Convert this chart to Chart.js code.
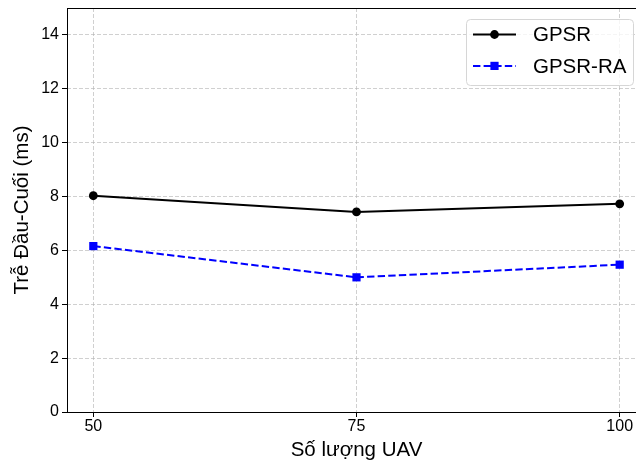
<!DOCTYPE html>
<html>
<head>
<meta charset="utf-8">
<script src="https://cdn.jsdelivr.net/npm/chart.js@4"></script>
<style>
    html, body { margin: 0; padding: 0; background: #fff; overflow: hidden; }
    #wrap { width: 646px; height: 464px; }
</style>
</head>
<body>
<div id="wrap"><canvas id="delayChart" width="646" height="464"></canvas></div>
<script>
const uavCounts = [50, 75, 100];
const gpsrDelay = [8.03, 7.43, 7.73];
const gpsrRaDelay = [6.16, 5.0, 5.47];
const xTicks = [50, 75, 100];
const yTicks = [0, 2, 4, 6, 8, 10, 12, 14];

const FONT = "'Liberation Sans', Arial, sans-serif";

// spines + boxed legend inside the plot area (top right)
const framePlugin = {
    id: "frame",
    afterDatasetsDraw(chart) {
        const { ctx, chartArea } = chart;
        ctx.save();
        ctx.strokeStyle = "#000";
        ctx.lineWidth = 1;
        ctx.setLineDash([]);
        ctx.strokeRect(chartArea.left + 0.5, chartArea.top + 0.5,
            chartArea.right - chartArea.left - 1, chartArea.bottom - chartArea.top);

        const boxW = 167, boxH = 66;
        const bx = chartArea.right - 13 - boxW;
        const by = chartArea.top + 11;
        ctx.beginPath();
        ctx.roundRect(bx + 0.5, by + 0.5, boxW, boxH, 4);
        ctx.fillStyle = "rgba(255,255,255,0.8)";
        ctx.fill();
        ctx.strokeStyle = "#d6d6d6";
        ctx.stroke();

        chart.data.datasets.forEach((ds, i) => {
            const y = by + 15.5 + i * 31.4;
            const x0 = bx + 7, x1 = bx + 50;
            ctx.strokeStyle = ds.borderColor;
            ctx.lineWidth = ds.borderWidth;
            ctx.setLineDash(ds.borderDash || []);
            ctx.beginPath();
            ctx.moveTo(x0, y);
            ctx.lineTo(x1, y);
            ctx.stroke();
            ctx.setLineDash([]);
            ctx.fillStyle = ds.borderColor;
            Chart.helpers.drawPoint(ctx, {
                pointStyle: ds.pointStyle,
                radius: ds.pointRadius,
                borderWidth: 0
            }, (x0 + x1) / 2, y);
            ctx.fillStyle = "#000";
            ctx.font = "20.5px " + FONT;
            ctx.textBaseline = "middle";
            ctx.textAlign = "left";
            ctx.fillText(ds.label, bx + 67, y + 1);
        });
        ctx.restore();
    }
};

const gridStyle = {
    color: "rgba(176,176,176,0.6)",
    lineWidth: 1,
    drawTicks: true,
    tickLength: 5,
    tickColor: "#000",
    tickBorderDash: [],
    tickWidth: 1
};

// dashed grid lines; the solid spines come from the plugin
const borderStyle = { display: false, dash: [4, 2] };

new Chart(document.getElementById("delayChart"), {
    type: "line",
    data: {
        datasets: [
            {
                label: "GPSR",
                data: uavCounts.map((x, i) => ({ x: x, y: gpsrDelay[i] })),
                borderColor: "#000000",
                backgroundColor: "#000000",
                borderWidth: 2,
                pointStyle: "circle",
                pointRadius: 4.4,
                pointBorderWidth: 0,
                tension: 0
            },
            {
                label: "GPSR-RA",
                data: uavCounts.map((x, i) => ({ x: x, y: gpsrRaDelay[i] })),
                borderColor: "#0000ff",
                backgroundColor: "#0000ff",
                borderWidth: 2,
                borderDash: [7.4, 3.2],
                pointStyle: "rect",
                pointRadius: 5.8,
                pointBorderWidth: 0,
                tension: 0
            }
        ]
    },
    options: {
        responsive: false,
        animation: false,
        layout: { autoPadding: false, padding: { top: 8, right: 0, bottom: 0, left: 0 } },
        plugins: {
            legend: { display: false },
            tooltip: { enabled: false }
        },
        scales: {
            x: {
                type: "linear",
                min: 47.5,
                max: 102.5,
                afterBuildTicks: (scale) => { scale.ticks = xTicks.map(v => ({ value: v })); },
                afterFit: (scale) => {
                    scale.height = 52;
                    scale.paddingLeft = 0;
                    scale.paddingRight = 0;
                },
                grid: gridStyle,
                border: borderStyle,
                ticks: {
                    font: { family: FONT, size: 16 },
                    color: "#000",
                    padding: 0,
                    maxRotation: 0
                },
                title: {
                    display: true,
                    text: "Số lượng UAV",
                    font: { family: FONT, size: 20.5 },
                    color: "#000",
                    padding: { top: 0, bottom: 1 }
                }
            },
            y: {
                min: 0,
                max: 15,
                afterBuildTicks: (scale) => { scale.ticks = yTicks.map(v => ({ value: v })); },
                afterFit: (scale) => {
                    scale.width = 67;
                    scale.paddingTop = 0;
                    scale.paddingBottom = 0;
                },
                grid: gridStyle,
                border: borderStyle,
                ticks: {
                    font: { family: FONT, size: 16 },
                    color: "#000",
                    padding: 3
                },
                title: {
                    display: true,
                    text: "Trễ Đầu-Cuối (ms)",
                    font: { family: FONT, size: 20.5 },
                    color: "#000",
                    padding: { top: 10, bottom: 0 }
                }
            }
        }
    },
    plugins: [framePlugin]
});
</script>
</body>
</html>
